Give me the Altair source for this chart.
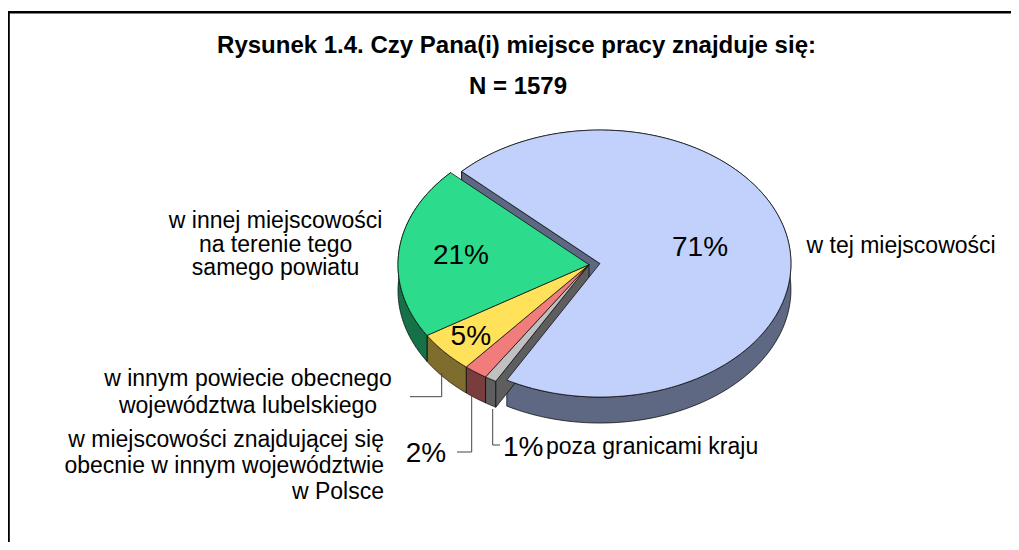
import math
import altair as alt
import pandas as pd

# ---------------- data ----------------
categories = [
    "w tej miejscowości",
    "poza granicami kraju",
    "w miejscowości znajdującej się obecnie w innym województwie w Polsce",
    "w innym powiecie obecnego województwa lubelskiego",
    "w innej miejscowości na terenie tego samego powiatu",
]
values = [71, 1, 2, 5, 21]          # percent
slice_order = [0, 1, 2, 3, 4]       # clockwise order of slices

title_text = "Rysunek 1.4. Czy Pana(i) miejsce pracy znajduje się:"
subtitle_text = "N = 1579"

label_lines = [
    ["w tej miejscowości"],
    ["poza granicami kraju"],
    ["w miejscowości znajdującej się", "obecnie w innym województwie", "w Polsce"],
    ["w innym powiecie obecnego", "województwa lubelskiego"],
    ["w innej miejscowości", "na terenie tego", "samego powiatu"],
]

# ---------------- style / layout ----------------
top_colors = ["#C2D1FB", "#C0C0C0", "#F07C7C", "#FFE15A", "#2DDB8C"]
side_colors = ["#5F6882", "#5E5E5E", "#7A3D3D", "#7F6D2E", "#167048"]
W, H = 1003, 534
M = 8
START = math.radians(-46.4)
CX, CY = 589.0, 264.7
RX, RY = 191.0, 133.5
DEPTH = 26
EXPLODE_IDX = 0
EXPLODE = 0.058
N = 120
FONT = "Liberation Sans"
inside_r = [0.53, 0, 0, 0.82, 0.674]   # radius factor of in-slice % labels
inside_dy = [-5, 0, 0, 0, 0]           # small vertical nudge of in-slice labels


def vx(x):
    return x - M


def vy(y):
    return y - M


def arr(lst):
    return "[" + ",".join(repr(v) for v in lst) + "]"


xs = alt.Scale(domain=[M, M + W], nice=False, zero=False)
ys = alt.Scale(domain=[M, M + H], nice=False, zero=False, reverse=True)

df = pd.DataFrame({"idx": slice_order, "category": categories, "value": values})
one = pd.DataFrame({"k": [0]})

geo = (
    alt.Chart(df)
    .transform_joinaggregate(total="sum(value)")
    .transform_window(cum="sum(value)", sort=[alt.SortField("idx", order="ascending")], frame=[None, 0])
    .transform_calculate(
        a0=f"{START} + 2*PI*(datum.cum - datum.value)/datum.total",
        a1=f"{START} + 2*PI*datum.cum/datum.total",
    )
    .transform_calculate(
        mid="(datum.a0 + datum.a1)/2",
        ex=f"datum.idx == {EXPLODE_IDX} ? {EXPLODE} : 0",
        topc=f"{arr(top_colors)}[datum.idx]",
        sidec=f"{arr(side_colors)}[datum.idx]",
    )
    .transform_calculate(
        cx=f"{CX} + datum.ex*{RX}*sin(datum.mid)",
        cy=f"{CY} - datum.ex*{RY}*cos(datum.mid)",
    )
)


def poly_enc(colfield):
    return dict(
        x=alt.X("px:Q", scale=xs, axis=None),
        y=alt.Y("py:Q", scale=ys, axis=None),
        order=alt.Order("i:Q"),
        fill=alt.Fill(f"{colfield}:N", scale=None, legend=None),
        detail="idx:N",
    )


# outer walls
walls = (
    geo.transform_calculate(i=f"sequence(0, {2 * N + 3})")
    .transform_flatten(["i"])
    .transform_calculate(
        t=f"datum.i > {2 * N + 1} ? 0 : (datum.i <= {N} ? datum.i/{N} : ({2 * N + 1} - datum.i)/{N})",
        low=f"(datum.i > {N} && datum.i <= {2 * N + 1}) ? 1 : 0",
    )
    .transform_calculate(ang="datum.a0 + datum.t*(datum.a1 - datum.a0)")
    .transform_calculate(
        px=f"datum.cx + {RX}*sin(datum.ang)",
        py=f"datum.cy - {RY}*cos(datum.ang) + datum.low*{DEPTH}",
    )
    .mark_line(filled=True, stroke="black", strokeWidth=0.7, strokeJoin="round")
    .encode(**poly_enc("sidec"))
)

# cut faces next to the exploded slice
cuts = (
    geo.transform_filter(f"datum.idx == {EXPLODE_IDX} || datum.idx == {(EXPLODE_IDX + 1) % len(values)}")
    .transform_calculate(i="sequence(0, 5)")
    .transform_flatten(["i"])
    .transform_calculate(
        r="(datum.i == 1 || datum.i == 2) ? 1 : 0",
        low="(datum.i == 2 || datum.i == 3) ? 1 : 0",
    )
    .transform_calculate(
        px=f"datum.cx + datum.r*{RX}*sin(datum.a0)",
        py=f"datum.cy - datum.r*{RY}*cos(datum.a0) + datum.low*{DEPTH}",
    )
    .mark_line(filled=True, stroke="black", strokeWidth=0.7, strokeJoin="round")
    .encode(**poly_enc("sidec"))
)

# top faces
tops = (
    geo.transform_calculate(i=f"sequence(0, {N + 3})")
    .transform_flatten(["i"])
    .transform_calculate(
        r=f"(datum.i == 0 || datum.i == {N + 2}) ? 0 : 1",
        t=f"clamp((datum.i - 1)/{N}, 0, 1)",
    )
    .transform_calculate(ang="datum.a0 + datum.t*(datum.a1 - datum.a0)")
    .transform_calculate(
        px=f"datum.cx + datum.r*{RX}*sin(datum.ang)",
        py=f"datum.cy - datum.r*{RY}*cos(datum.ang)",
    )
    .mark_line(filled=True, stroke="black", strokeWidth=0.7, strokeJoin="round")
    .encode(**poly_enc("topc"))
)

# percentage labels inside slices
pct_in = (
    geo.transform_calculate(
        lr=f"{arr(inside_r)}[datum.idx]",
        ldy=f"{arr(inside_dy)}[datum.idx]",
        label="datum.value + '%'",
    )
    .transform_filter("datum.lr > 0")
    .transform_calculate(
        px=f"datum.cx + datum.lr*{RX}*sin(datum.mid)",
        py=f"datum.cy - datum.lr*{RY}*cos(datum.mid) + datum.ldy",
    )
    .mark_text(font=FONT, fontSize=28, align="center", baseline="middle", color="black")
    .encode(x=alt.X("px:Q", scale=xs, axis=None), y=alt.Y("py:Q", scale=ys, axis=None), text="label:N")
)


def txt(text, x, y, size, align="center", weight="normal", line_height=None):
    kw = dict(font=FONT, fontSize=size, align=align, baseline="alphabetic",
              fontWeight=weight, color="black", text=text)
    if line_height is not None:
        kw["lineHeight"] = line_height
    return alt.Chart(one).mark_text(**kw).encode(x=alt.value(vx(x)), y=alt.value(vy(y)))


def rule(x1, y1, x2, y2, color="#444444", width=1.0):
    return alt.Chart(one).mark_rule(color=color, strokeWidth=width).encode(
        x=alt.value(vx(x1)), y=alt.value(vy(y1)), x2=alt.value(vx(x2)), y2=alt.value(vy(y2))
    )


layers = [
    # frame (top and left edges visible)
    rule(M, 12.2, M + W, 12.2, color="black", width=2.4),
    rule(M + 0.6, 11, M + 0.6, M + H, color="black", width=2.4),
    walls,
    cuts,
    tops,
    pct_in,
    txt(title_text, 516.5, 52.5, 24, weight="bold"),
    txt(subtitle_text, 518, 94, 24, weight="bold"),
    txt(label_lines[0], 806.5, 253.3, 23, align="left"),
    txt(label_lines[4], 275.6, 228.3, 23, line_height=23.5),
    txt(label_lines[3], 248, 386, 23, line_height=27),
    txt(label_lines[2], 384, 446.7, 23, align="right", line_height=26),
    txt(label_lines[1], 546, 453.5, 23, align="left"),
    txt(f"{values[2]}%", 426, 462, 28),
    txt(f"{values[1]}%", 503, 456, 28, align="left"),
    # leader lines
    rule(441.7, 373, 441.7, 396.7),
    rule(410, 396.7, 441.7, 396.7),
    rule(471.7, 395, 471.7, 452),
    rule(457, 452, 471.7, 452),
    rule(492.7, 409, 492.7, 445),
    rule(492.7, 445, 500, 445),
]

chart = (
    alt.layer(*layers)
    .properties(width=W, height=H, padding=0, autosize=alt.AutoSizeParams(type="none"))
    .configure_view(stroke=None)
)

chart.save("out.html", embed_options={"renderer": "svg", "actions": False})
